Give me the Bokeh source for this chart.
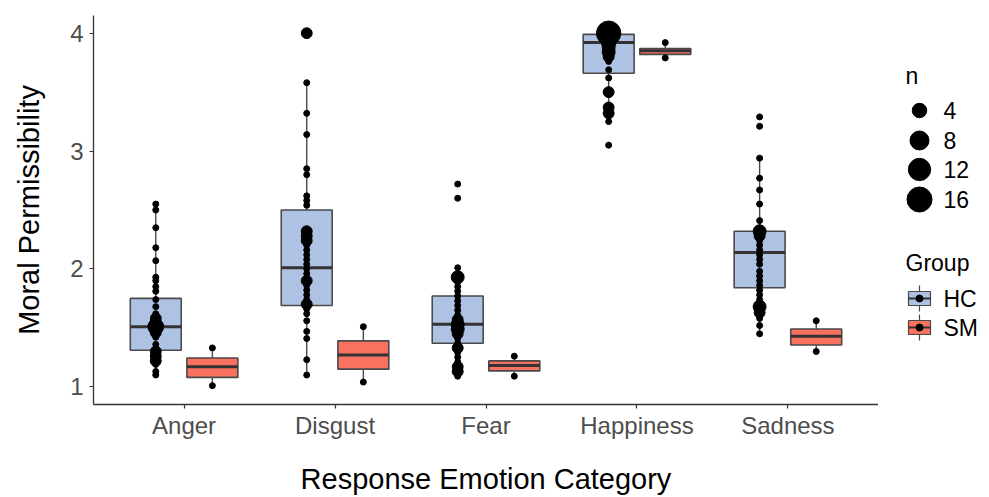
import math
from bokeh.plotting import figure
from bokeh.layouts import row
from bokeh.models import Range1d, FixedTicker
from bokeh.core.properties import value
from bokeh.embed import file_html
from bokeh.resources import INLINE

# ---------------- data ----------------
categories = ["Anger", "Disgust", "Fear", "Happiness", "Sadness"]
groups = ["HC", "SM"]

hc_lo  = [1.10, 1.10, 1.09, 3.25, 1.45]
hc_q1  = [1.31, 1.69, 1.37, 3.66, 1.84]
hc_med = [1.51, 2.01, 1.53, 3.92, 2.14]
hc_q3  = [1.75, 2.50, 1.77, 3.99, 2.32]
hc_hi  = [2.53, 3.58, 2.01, 4.00, 2.94]

sm_lo  = [1.01, 1.04, 1.09, 3.79, 1.30]
sm_q1  = [1.08, 1.15, 1.135, 3.82, 1.355]
sm_med = [1.17, 1.27, 1.18, 3.85, 1.43]
sm_q3  = [1.245, 1.39, 1.22, 3.87, 1.49]
sm_hi  = [1.33, 1.51, 1.26, 3.92, 1.56]

anger_hc_y = [2.55, 2.50, 2.35, 2.18, 2.07, 1.93, 1.90, 1.85, 1.81, 1.74, 1.68, 1.62,
              1.58, 1.55, 1.51, 1.46, 1.42, 1.36, 1.30, 1.26, 1.22, 1.19, 1.13, 1.10]
anger_hc_n = [1, 1, 1, 1, 1, 1, 1, 1, 1, 1, 1, 1, 2, 2, 5, 2, 1, 1, 2, 2, 2, 1, 1, 1]

disgust_hc_y = [4.00, 3.58, 3.32, 3.14, 2.85, 2.80, 2.62, 2.58, 2.54, 2.32, 2.28, 2.24,
                2.20, 2.16, 2.12, 2.08, 2.04, 2.00, 1.96, 1.90, 1.86, 1.82, 1.78, 1.74,
                1.70, 1.66, 1.62, 1.56, 1.47, 1.41, 1.23, 1.10]
disgust_hc_n = [2, 1, 1, 1, 1, 1, 1, 1, 1, 2, 2, 2, 1, 1, 1, 1, 1, 1, 1, 2, 1, 1, 1, 1,
                2, 1, 1, 1, 1, 1, 1, 1]

fear_hc_y = [2.72, 2.60, 2.01, 1.93, 1.89, 1.85, 1.81, 1.77, 1.73, 1.69, 1.65, 1.61,
             1.57, 1.53, 1.49, 1.45, 1.41, 1.37, 1.33, 1.29, 1.25, 1.21, 1.17, 1.13, 1.09]
fear_hc_n = [1, 1, 1, 3, 1, 1, 1, 1, 1, 1, 1, 1, 2, 3, 3, 2, 1, 1, 2, 1, 1, 1, 2, 2, 1]

happiness_hc_y = [4.00, 3.96, 3.92, 3.88, 3.84, 3.80, 3.76, 3.69, 3.62, 3.50, 3.37, 3.32,
                  3.25, 3.05]
happiness_hc_n = [15, 4, 4, 3, 3, 2, 1, 1, 1, 2, 2, 2, 1, 1]

sadness_hc_y = [3.29, 3.21, 2.94, 2.77, 2.67, 2.55, 2.41, 2.32, 2.28, 2.24, 2.20, 2.16,
                2.12, 2.08, 2.04, 1.98, 1.94, 1.90, 1.86, 1.82, 1.78, 1.74, 1.68, 1.63,
                1.58, 1.52, 1.45]
sadness_hc_n = [1, 1, 1, 1, 1, 1, 1, 3, 2, 1, 1, 1, 1, 1, 1, 1, 1, 1, 1, 1, 1, 1, 3, 2,
                1, 1, 1]

legend_n = [4, 8, 12, 16]
y_ticks = [1, 2, 3, 4]

# ---------------- styling ----------------
FONT = "Liberation Sans"
HC_COLOR = "#AEC3E3"
SM_COLOR = "#F8725F"
EDGE = "#4a4a4a"
DODGE = 0.1875
BOX_W = 0.3375

FIG_H = 497
TOP, BOTTOM = 15, 93


def dot_size(n):
    return 6 + 19 * math.sqrt(max(n - 1, 0) / 15.0)


p = figure(width=878, height=FIG_H, output_backend="svg", toolbar_location=None,
           x_range=Range1d(0.4, 5.6), y_range=Range1d(0.85, 4.15),
           min_border_left=93, min_border_right=0, min_border_top=TOP, min_border_bottom=BOTTOM)
p.grid.visible = False
p.outline_line_color = None
p.background_fill_color = "white"
p.border_fill_color = "white"

pos = [i + 1 for i in range(len(categories))]
p.xaxis.ticker = FixedTicker(ticks=pos)
p.xaxis.major_label_overrides = {i + 1: c for i, c in enumerate(categories)}
p.yaxis.ticker = FixedTicker(ticks=y_ticks)

for ax in (p.xaxis, p.yaxis):
    ax.axis_line_color = "#333333"
    ax.axis_line_width = 1.3
    ax.major_tick_line_color = "#333333"
    ax.major_tick_line_width = 1.2
    ax.major_tick_out = 4
    ax.major_tick_in = 0
    ax.minor_tick_line_color = None
    ax.major_label_text_font = FONT
    ax.major_label_text_font_size = "24px"
    ax.major_label_text_color = "#4D4D4D"
    ax.axis_label_text_font = FONT
    ax.axis_label_text_font_size = "29px"
    ax.axis_label_text_font_style = "normal"
    ax.axis_label_text_color = "black"

p.xaxis.axis_label = "Response Emotion Category"
p.yaxis.axis_label = "Moral Permissibility"
p.xaxis.major_label_standoff = 3
p.xaxis.axis_label_standoff = 21
p.yaxis.major_label_standoff = 6
p.yaxis.axis_label_standoff = 22


def draw_boxes(offset, lo, q1, med, q3, hi, fill):
    xs = [x + offset for x in pos]
    p.segment(x0=xs, y0=q3, x1=xs, y1=hi, line_color=EDGE, line_width=1.4)
    p.segment(x0=xs, y0=q1, x1=xs, y1=lo, line_color=EDGE, line_width=1.4)
    p.quad(left=[x - BOX_W / 2 for x in xs], right=[x + BOX_W / 2 for x in xs],
           bottom=q1, top=q3, fill_color=fill, line_color=EDGE, line_width=1.6)
    p.segment(x0=[x - BOX_W / 2 for x in xs], y0=med, x1=[x + BOX_W / 2 for x in xs],
              y1=med, line_color="#333333", line_width=3)
    return xs


hc_x = draw_boxes(-DODGE, hc_lo, hc_q1, hc_med, hc_q3, hc_hi, HC_COLOR)
sm_x = draw_boxes(DODGE, sm_lo, sm_q1, sm_med, sm_q3, sm_hi, SM_COLOR)

# SM count points (whisker ends)
p.scatter(x=sm_x + sm_x, y=sm_lo + sm_hi, size=dot_size(1), color="black")

# HC count points
hc_points = [(anger_hc_y, anger_hc_n), (disgust_hc_y, disgust_hc_n), (fear_hc_y, fear_hc_n),
             (happiness_hc_y, happiness_hc_n), (sadness_hc_y, sadness_hc_n)]
for xc, (ys, ns) in zip(hc_x, hc_points):
    p.scatter(x=[xc] * len(ys), y=ys, size=[dot_size(n) for n in ns], color="black")

# ---------------- legend panel ----------------
# (its frame is aligned with the main frame by the row layout: page y 15..404)
lg = figure(width=111, height=FIG_H, output_backend="svg", toolbar_location=None,
            x_range=Range1d(0, 111), y_range=Range1d(FIG_H - BOTTOM, TOP),
            x_axis_type=None, y_axis_type=None,
            min_border_left=0, min_border_right=0, min_border_top=TOP, min_border_bottom=BOTTOM)
lg.grid.visible = False
lg.outline_line_color = None

lg.text(x=[27], y=[75], text=["n"], text_font=value(FONT), text_font_size="23px",
        text_baseline="middle", text_color="black")
leg_y = [110, 140, 169, 199]
lg.scatter(x=[41] * len(legend_n), y=leg_y, size=[dot_size(n) for n in legend_n], color="black")
lg.text(x=[65] * len(legend_n), y=leg_y, text=[str(n) for n in legend_n], text_font=value(FONT),
        text_font_size="23px", text_baseline="middle", text_color="black")

lg.text(x=[27], y=[262], text=["Group"], text_font=value(FONT), text_font_size="23px",
        text_baseline="middle", text_color="black")
key_y = [298, 327]
key_fill = [HC_COLOR, SM_COLOR]
lg.segment(x0=[41, 41], y0=[ky - 13 for ky in key_y], x1=[41, 41], y1=[ky + 13 for ky in key_y],
           line_color=EDGE, line_width=1.2)
lg.quad(left=[30, 30], right=[52, 52], top=[ky - 7 for ky in key_y], bottom=[ky + 7 for ky in key_y],
        fill_color=key_fill, line_color=EDGE, line_width=1.2)
lg.segment(x0=[30, 30], y0=key_y, x1=[52, 52], y1=key_y, line_color="#333333", line_width=2)
lg.scatter(x=[41, 41], y=key_y, size=7, color="black")
lg.text(x=[65, 65], y=key_y, text=groups, text_font=value(FONT), text_font_size="23px",
        text_baseline="middle", text_color="black")

layout = row(p, lg)
open("out.html", "w").write(file_html(layout, INLINE))
